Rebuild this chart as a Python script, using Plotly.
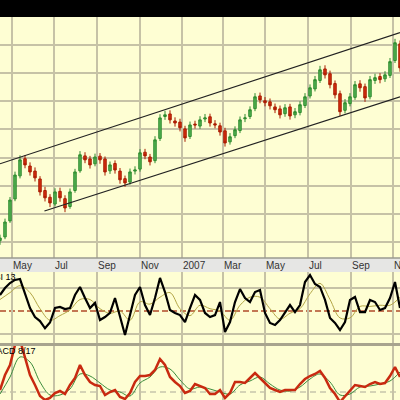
import plotly.graph_objects as go
import pandas as pd

# ---------------- data ----------------
START, END = "2006-04-14", "2007-11-11"
N_POINTS = 81
DATES = pd.date_range(START, END, periods=N_POINTS)

OPEN = [10.5, 11.8, 17.5, 25.3, 33.5, 39.6, 37.0, 35.2, 32.4, 28.3, 25.9, 23.5, 28.0, 25.4, 22.6, 28.3,
        35.3, 40.6, 39.5, 37.8, 40.5, 39.5, 35.3, 37.9, 35.2, 32.5, 31.3, 35.2, 35.9, 41.9, 40.2, 38.9,
        46.8, 54.6, 55.5, 53.0, 52.6, 50.2, 47.5, 51.9, 51.2, 53.7, 54.5, 52.0, 51.3, 49.5, 45.6, 47.8,
        49.6, 53.8, 54.6, 57.4, 61.9, 60.2, 59.8, 58.0, 57.3, 55.6, 58.0, 55.2, 56.0, 58.5, 61.9, 64.4,
        67.4, 71.5, 69.8, 66.3, 62.7, 56.8, 59.2, 61.4, 66.2, 65.2, 61.6, 67.4, 68.8, 68.0, 69.2, 74.5, 80.4]
CLOSE = [11.4, 17.1, 24.9, 33.8, 39.2, 37.4, 34.9, 32.8, 27.8, 25.7, 23.9, 27.8, 25.7, 22.1, 27.8, 34.9,
         41.0, 39.2, 37.4, 40.2, 39.2, 34.9, 37.4, 35.6, 32.1, 31.0, 34.9, 35.6, 41.7, 40.6, 38.5, 46.3,
         54.1, 55.2, 53.4, 52.3, 50.6, 47.0, 51.6, 51.6, 53.4, 54.1, 52.3, 51.6, 49.1, 45.2, 47.4, 49.9,
         53.4, 54.1, 57.0, 61.6, 60.5, 59.5, 58.4, 57.0, 55.2, 57.7, 54.8, 56.3, 58.8, 61.6, 64.8, 67.7,
         71.2, 69.4, 65.9, 62.3, 56.3, 59.5, 61.6, 65.9, 64.8, 61.2, 67.7, 68.4, 67.7, 69.4, 74.1, 80.8, 71.9]
HIGH = [12.6, 18.3, 26.0, 35.0, 40.8, 40.9, 38.3, 36.5, 33.4, 29.6, 27.0, 29.1, 29.3, 26.6, 29.0, 36.0,
        42.3, 41.9, 40.6, 41.4, 41.6, 40.4, 38.6, 39.0, 36.3, 33.6, 36.1, 36.9, 43.0, 43.1, 41.3, 47.6,
        55.4, 56.6, 56.8, 54.3, 53.8, 51.3, 52.8, 53.1, 54.7, 55.5, 55.6, 53.3, 52.4, 50.6, 48.7, 51.1,
        54.6, 55.5, 58.2, 62.9, 63.1, 61.5, 61.0, 59.2, 58.5, 59.0, 59.1, 57.6, 60.0, 62.9, 66.0, 69.0,
        72.6, 72.8, 70.9, 67.4, 63.8, 60.8, 62.9, 67.2, 67.5, 66.3, 69.0, 69.8, 70.0, 70.7, 75.4, 82.2, 81.6]
LOW = [9.0, 11.0, 16.8, 24.5, 32.6, 36.2, 33.6, 31.5, 26.5, 24.4, 22.4, 22.6, 24.3, 20.6, 21.8, 27.5,
       34.6, 38.0, 36.1, 36.9, 37.8, 33.6, 34.2, 34.3, 30.7, 29.6, 30.4, 34.0, 35.0, 39.4, 37.2, 38.0,
       45.9, 53.4, 52.1, 51.0, 49.3, 45.6, 46.6, 50.3, 50.2, 52.6, 51.0, 50.4, 47.8, 43.9, 44.6, 46.9,
       48.7, 52.6, 53.7, 56.5, 59.3, 58.2, 57.1, 55.8, 53.9, 54.5, 53.5, 54.0, 55.0, 57.6, 61.0, 63.5,
       66.5, 68.1, 64.6, 61.0, 54.8, 55.7, 58.2, 60.5, 63.4, 59.8, 60.7, 66.2, 66.4, 66.9, 68.3, 73.6, 70.5]

# trend channel end points
CH_UPPER_X = ["2006-04-14", "2007-11-11"]
CH_UPPER_Y = [37.8, 84.4]
CH_LOWER_X = ["2006-06-17", "2007-11-11"]
CH_LOWER_Y = [21.0, 61.6]

RSI = [63.9, 70.0, 74.3, 77.0, 77.8, 65.7, 52.6, 44.8, 41.3, 35.0, 40.0, 52.6, 53.5, 51.7, 52.6, 63.9,
       70.9, 61.3, 52.6, 57.0, 42.2, 44.8, 48.3, 61.3, 43.9, 29.1, 46.5, 63.9, 70.9, 55.2, 46.5, 61.3,
       78.7, 66.5, 50.9, 48.3, 46.5, 40.4, 52.6, 63.9, 59.6, 48.3, 44.8, 46.5, 57.8, 31.7, 40.4, 57.8,
       69.1, 61.3, 57.8, 66.5, 68.3, 48.3, 39.6, 37.8, 42.2, 49.1, 55.2, 49.1, 55.2, 75.2, 81.3, 73.5,
       70.9, 59.6, 43.9, 39.6, 33.5, 40.4, 59.6, 62.2, 49.1, 49.1, 59.6, 57.8, 50.9, 52.6, 61.3, 75.2, 52.6]
RSI_SIGNAL = [60, 66, 72, 66, 52, 42, 46, 51, 60, 60, 52, 48, 50, 42, 58, 56, 62, 66, 52, 46, 55,
              52, 50, 42, 55, 62, 62, 52, 43, 48, 52, 65, 74, 60, 44, 44, 54, 54, 55, 55, 62]
RSI_MID = 50
RSI_GRID = [30, 70]

MACD = [0.2, 1.7, 2.7, 4.7, 5.2, 3.4, 1.7, 0.7, -0.4, -0.8, -0.6, -0.1, 0.1, -0.2, 0.7, 1.4,
        2.7, 1.7, 1.0, 0.7, 0.6, -0.3, 0.0, 0.2, -0.5, -0.7, -0.1, 1.0, 1.6, 1.6, 1.7, 2.2,
        3.3, 2.7, 1.5, 1.0, 0.6, -0.1, 0.1, 0.8, 0.6, 0.4, -0.2, -0.2, 0.2, -0.6, -0.1, 1.0,
        1.0, 0.9, 1.4, 1.9, 1.4, 0.9, 0.4, 0.2, 0.0, 0.2, 0.2, 0.2, 0.8, 1.3, 1.6, 1.8, 2.1,
        1.4, 0.4, -0.2, -1.0, -0.4, 0.2, 0.7, 0.6, 0.5, 0.8, 1.0, 0.8, 0.9, 1.6, 2.5, 1.5]
MACD_SIGNAL = [-0.2, 1.5, 3.5, 3.0, 1.0, -0.3, -0.3, 0.3, 1.8, 1.6, 0.9, 0.2, 0.0, -0.4, 0.9, 1.5,
               2.5, 2.3, 1.2, 0.3, 0.5, 0.3, 0.0, -0.2, 0.7, 1.1, 1.5, 0.8, 0.2, 0.1, 0.5, 1.3,
               1.8, 1.0, -0.3, -0.2, 0.5, 0.6, 0.8, 1.1, 2.0]
MACD_ZERO = 0

TICK_DATES = ["2006-05-01", "2006-07-01", "2006-09-01", "2006-11-01", "2007-01-01",
              "2007-03-01", "2007-05-01", "2007-07-01", "2007-09-01", "2007-11-01"]
TICK_TEXT = ["May", "Jul", "Sep", "Nov", "2007", "Mar", "May", "Jul", "Sep", "Nov"]

# ---------------- styles ----------------
BG = "#fefed3"
GRID = "#c6c2a6"
FONT = "Liberation Sans, Arial, sans-serif"

fig = go.Figure()

fig.add_trace(go.Candlestick(
    x=DATES, open=OPEN, high=HIGH, low=LOW, close=CLOSE, xaxis="x", yaxis="y",
    increasing=dict(line=dict(color="#2e8b2e", width=1), fillcolor="#52b152"),
    decreasing=dict(line=dict(color="#a81c00", width=1), fillcolor="#d42c10"),
    whiskerwidth=0, showlegend=False, hoverinfo="skip"))

for cx, cy in ((CH_UPPER_X, CH_UPPER_Y), (CH_LOWER_X, CH_LOWER_Y)):
    fig.add_trace(go.Scatter(x=cx, y=cy, mode="lines", xaxis="x", yaxis="y",
                             line=dict(color="#222222", width=1.2), showlegend=False, hoverinfo="skip"))

fig.add_trace(go.Scatter(x=DATES[::2], y=RSI_SIGNAL, mode="lines", xaxis="x2", yaxis="y2",
                         line=dict(color="#b3a646", width=1, shape="spline"), showlegend=False))
fig.add_trace(go.Scatter(x=DATES, y=RSI, mode="lines", xaxis="x2", yaxis="y2",
                         line=dict(color="#000000", width=2.2), showlegend=False))

fig.add_trace(go.Scatter(x=DATES[::2], y=MACD_SIGNAL, mode="lines", xaxis="x3", yaxis="y3",
                         line=dict(color="#3c8c3c", width=1, shape="spline"), showlegend=False))
fig.add_trace(go.Scatter(x=DATES, y=MACD, mode="lines", xaxis="x3", yaxis="y3",
                         line=dict(color="#c82a10", width=2.5), showlegend=False))

xcommon = dict(range=[START, END], type="date", tickvals=TICK_DATES, showgrid=True,
               gridcolor=GRID, gridwidth=2, zeroline=False, showline=False, ticks="",
               showticklabels=False)
ycommon = dict(zeroline=False, showline=False, showticklabels=False, ticks="",
               gridcolor=GRID, gridwidth=2)

month_labels = [
    dict(text=t, xref="x", yref="paper", x=d, y=0.3375, xanchor="left", yanchor="middle",
         xshift=-1, showarrow=False, font=dict(family=FONT, size=10, color="#333333"))
    for d, t in zip(TICK_DATES, TICK_TEXT)
]

fig.update_layout(
    width=400, height=400, margin=dict(l=0, r=0, t=0, b=0),
    paper_bgcolor="#000000", plot_bgcolor=BG, showlegend=False,
    xaxis=dict(**xcommon, domain=[0, 1], anchor="y", rangeslider=dict(visible=False)),
    yaxis=dict(**ycommon, domain=[0.355, 0.9575], range=[4.31, 89.96], tick0=0, dtick=10),
    xaxis2=dict(**xcommon, domain=[0, 1], anchor="y2", matches="x"),
    yaxis2=dict(**ycommon, domain=[0.1425, 0.32], range=[22.2, 83.9], tickvals=RSI_GRID),
    xaxis3=dict(**xcommon, domain=[0, 1], anchor="y3", matches="x"),
    yaxis3=dict(**ycommon, domain=[0, 0.135], range=[-0.8, 4.6], showgrid=False),
    shapes=[
        dict(type="rect", xref="paper", yref="paper", x0=0, x1=1, y0=0.32, y1=0.355,
             fillcolor="#e6e6e4", line=dict(width=0), layer="below"),
        dict(type="line", xref="paper", yref="paper", x0=0, x1=1, y0=0.355, y1=0.355,
             line=dict(color="#9a9a90", width=1.5)),
        dict(type="rect", xref="paper", yref="paper", x0=0, x1=1, y0=0.135, y1=0.1425,
             fillcolor="#a8a48e", line=dict(width=0), layer="below"),
        dict(type="line", xref="x2 domain", yref="y2", x0=0, x1=1, y0=RSI_MID, y1=RSI_MID,
             line=dict(color="#b04a2a", width=1.5, dash="6px,3px"), layer="below"),
        dict(type="line", xref="x3 domain", yref="y3", x0=0, x1=1, y0=MACD_ZERO, y1=MACD_ZERO,
             line=dict(color="#aaa898", width=1.2, dash="6px,4px"), layer="below"),
    ],
    annotations=month_labels + [
        dict(text="RSI 13", xref="paper", yref="paper", x=0.044, y=0.3075, xanchor="right",
             yanchor="middle", showarrow=False, font=dict(family=FONT, size=9, color="#000000")),
        dict(text="MACD 8/17", xref="paper", yref="paper", x=0.095, y=0.1225, xanchor="right",
             yanchor="middle", showarrow=False, font=dict(family=FONT, size=9, color="#000000")),
    ],
)

fig.write_html("out.html")
